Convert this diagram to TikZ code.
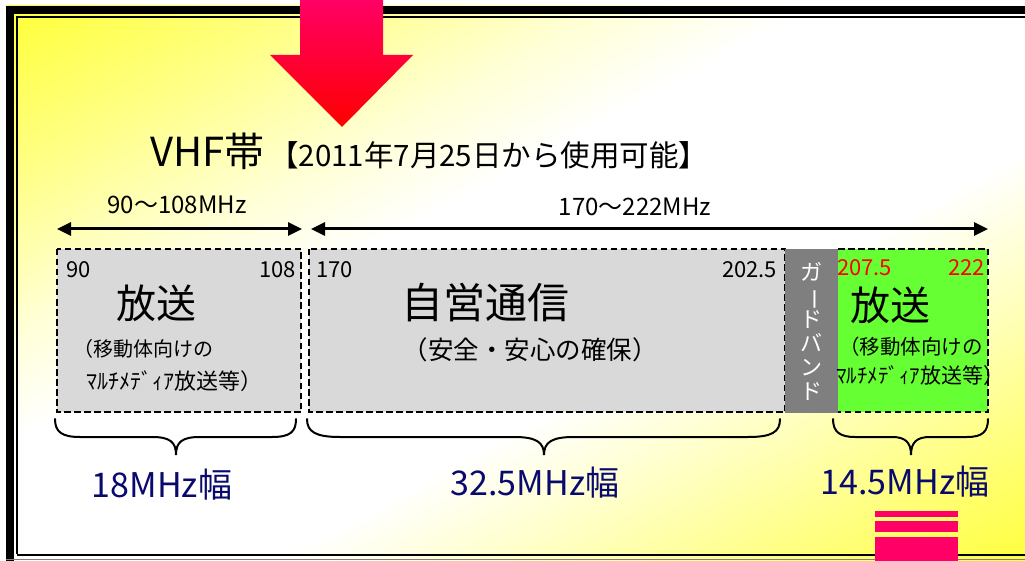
\documentclass[tikz,border=0pt]{standalone}
\usepackage{fontspec}
\setmainfont{Noto Sans CJK JP}
\usetikzlibrary{arrows.meta}
\definecolor{boxgray}{RGB}{217,217,217}
\definecolor{guardgray}{RGB}{127,127,127}
\definecolor{bandgreen}{RGB}{102,255,51}
\definecolor{navytxt}{RGB}{10,10,110}
\definecolor{arrowtop}{RGB}{255,0,102}
\definecolor{arrowbot}{RGB}{255,0,0}
\definecolor{pinkbar}{RGB}{255,0,102}
\definecolor{bgyel}{RGB}{255,255,20}
\pgfdeclareverticalshading{bgsh}{100bp}{color(0bp)=(bgyel); color(6bp)=(bgyel); color(15bp)=(bgyel!85!white); color(24bp)=(bgyel!55!white); color(32bp)=(bgyel!28!white); color(41bp)=(white); color(57bp)=(white); color(64bp)=(bgyel!18!white); color(73bp)=(bgyel!50!white); color(85bp)=(bgyel!88!white); color(94bp)=(bgyel); color(100bp)=(bgyel)}
\tikzset{
  fs/.style={font=\fontsize{#1}{#1}\selectfont},
  txt/.style={inner sep=0pt, outer sep=0pt},
  bandbox/.style={draw=black, line width=1.8pt, dash pattern=on 6.5pt off 3.5pt},
  rangearrow/.style={line width=3pt, {Triangle[length=14pt,width=13pt]}-{Triangle[length=14pt,width=13pt]}},
  bracestyle/.style={line width=2pt, line cap=round},
  widthlabel/.style={txt, fs=34, text=navytxt},
}
\begin{document}
\begin{tikzpicture}[x=1pt,y=-1pt]
\useasboundingbox (0,0) rectangle (1025,561);
% background gradient
\shade[shading=bgsh, shading angle=28.6] (6,6) rectangle (1025,561);
% frame
\draw[line width=8pt] (10,570) -- (10,10) -- (1030,10);
\draw[line width=2pt] (17,554) -- (17,17) -- (1030,17);
\draw[line width=2.5pt] (17,555) -- (1030,555);
\draw[line width=1pt, gray] (6,559.5) -- (1030,559.5);
% big arrow
\shade[top color=arrowtop, bottom color=arrowbot]
  (300,-2) -- (383,-2) -- (383,55) -- (413,55) -- (342,127) -- (270,55) -- (300,55) -- cycle;
% pink bars
\fill[pinkbar] (875,511) rectangle (958,517);
\fill[pinkbar] (875,521) rectangle (958,532);
\fill[pinkbar] (875,537) rectangle (958,565);
% title
\node[txt, anchor=base west] (title) at (150,167) {\fontsize{40}{40}\selectfont VHF帯\hspace{5pt}\fontsize{29.5}{29.5}\selectfont【2011年7月25日から使用可能】};
% range arrows
\coordinate (a1l) at (57,229);
\coordinate (a1r) at (302,229);
\coordinate (a2l) at (311,229);
\coordinate (a2r) at (988,229);
\draw[rangearrow] (a1l) -- (a1r);
\draw[rangearrow] (a2l) -- (a2r);
\node[txt, fs=24] (r1) at (177,205) {90〜108MHz};
\node[txt, fs=24] (r2) at (635,207) {170〜222MHz};
% boxes
\path[fill=boxgray] (57,249) rectangle (301,412);
\draw[bandbox] (57,249) rectangle (301,412);
\path[fill=boxgray] (309,249) rectangle (785,412);
\draw[bandbox] (309,249) rectangle (785,412);
\path[fill=bandgreen] (838,249) rectangle (988,412);
\draw[bandbox] (838,249) -- (988,249) -- (988,412) -- (838,412);
\node[fill=guardgray, minimum width=53pt, minimum height=164pt, inner sep=0pt, anchor=north west] (guard) at (785,249) {};
% box 1 texts
\node[txt, fs=22, anchor=west] (n90) at (66,270) {90};
\node[txt, fs=22, anchor=east] (n108) at (296,270) {108};
\node[txt, fs=40] (hoso1) at (156,303) {放送};
\node[txt, fs=20, anchor=west] (sub1a) at (73,349) {（移動体向けの};
\node[txt, fs=22, anchor=west] (sub1b) at (86,381) {ﾏﾙﾁﾒﾃﾞｨｱ放送等）};
% box 2 texts
\node[txt, fs=22, anchor=west] (n170) at (316,270) {170};
\node[txt, fs=22, anchor=east] (n2025) at (777,270) {202.5};
\node[txt, fs=42] (jiei) at (485,303) {自営通信};
\node[txt, fs=25.5] (anzen) at (530,350) {（安全・安心の確保）};
% guard band text
\node[txt, text=white, align=center, font=\fontsize{22}{23.8}\selectfont] (gbtext) at (811.5,331) {ガ\\\rotatebox[origin=c]{-90}{ー}\\ド\\バ\\ン\\ド};
% box 3 texts
\node[txt, fs=22, anchor=west, text=red] (n2075) at (837,268) {207.5};
\node[txt, fs=22, anchor=east, text=red] (n222) at (985,268) {222};
\node[txt, fs=40] (hoso3) at (890,305) {放送};
\node[txt, fs=20.5, anchor=west] (sub3a) at (839,347) {（移動体向けの};
\node[txt, fs=21, anchor=west] (sub3b) at (836,376) {ﾏﾙﾁﾒﾃﾞｨｱ放送等）};
% braces
\draw[bracestyle] (55,419) .. controls (55,432) and (62,437) .. (80,437) -- (152,437) .. controls (170,437) and (176,442) .. (176,455)
  .. controls (176,442) and (182,437) .. (200,437) -- (272,437) .. controls (290,437) and (296,432) .. (296,419);
\draw[bracestyle] (307,419) .. controls (307,432) and (316,437) .. (340,437) -- (514,437) .. controls (536,437) and (544,442) .. (544,455)
  .. controls (544,442) and (552,437) .. (574,437) -- (748,437) .. controls (772,437) and (780,432) .. (780,419);
\draw[bracestyle] (833,419) .. controls (833,432) and (840,437) .. (855,437) -- (892,437) .. controls (905,437) and (911,442) .. (911,455)
  .. controls (911,442) and (917,437) .. (930,437) -- (967,437) .. controls (982,437) and (988,432) .. (988,419);
% width labels
\node[widthlabel] (w1) at (162,485) {18MHz幅};
\node[widthlabel] (w2) at (535,483) {32.5MHz幅};
\node[widthlabel] (w3) at (905,482) {14.5MHz幅};
\end{tikzpicture}
\end{document}
